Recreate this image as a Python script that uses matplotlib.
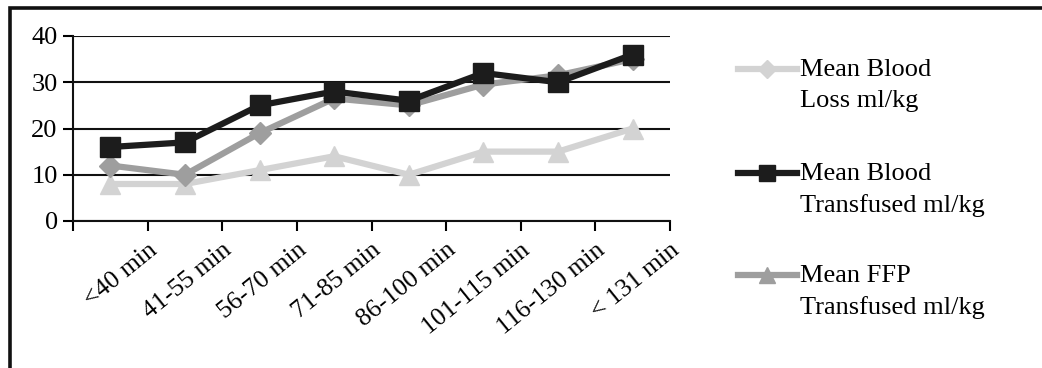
import matplotlib.pyplot as plt
import matplotlib.transforms as mtransforms
from matplotlib.lines import Line2D
from matplotlib.patches import Rectangle

plt.rcParams['font.family'] = ['Liberation Serif', 'DejaVu Serif']

categories = ['<40 min', '41-55 min', '56-70 min', '71-85 min',
              '86-100 min', '101-115 min', '116-130 min', '< 131 min']
blood_loss = [8, 8, 11, 14, 10, 15, 15, 20]
blood_transfused = [16, 17, 25, 28, 26, 32, 30, 36]
ffp_transfused = [12, 10, 19, 26.5, 25, 29.5, 31.5, 35]

legend_labels = ['Mean Blood\nLoss ml/kg',
                 'Mean Blood\nTransfused ml/kg',
                 'Mean FFP\nTransfused ml/kg']

c_light = '#d3d3d3'
c_mid = '#9e9e9e'
c_dark = '#1c1c1c'

fig = plt.figure(figsize=(10.42, 3.68), dpi=100)

# outer frame of the chart area
fig.patches.append(Rectangle((10 / 1042, -0.1), 1.2, 1 - 8 / 368 + 0.1,
                             transform=fig.transFigure, fill=False,
                             edgecolor='#111111', linewidth=2.6))

ax = fig.add_axes([73 / 1042, 1 - 221 / 368, 597 / 1042, 185 / 368])
x = list(range(len(categories)))

ax.plot(x, blood_loss, color=c_light, lw=4.5, marker='^', ms=14, zorder=3)
ax.plot(x, ffp_transfused, color=c_mid, lw=4.5, marker='D', ms=11, zorder=4)
ax.plot(x, blood_transfused, color=c_dark, lw=4.5, marker='s', ms=14, zorder=5)

ax.set_xlim(-0.5, len(categories) - 0.5)
ax.set_ylim(0, 40)
ax.set_yticks([0, 10, 20, 30, 40])
# labels hang from the tick marks between categories, like the original
ax.set_xticks([i - 0.5 for i in range(len(categories) + 1)])
ax.set_xticklabels([''] + categories, rotation=39, ha='right',
                   rotation_mode='anchor', fontsize=18.5)
shift = mtransforms.ScaledTranslation(5 / 100, 0, fig.dpi_scale_trans)
for lbl in ax.get_xticklabels():
    lbl.set_transform(lbl.get_transform() + shift)
ax.tick_params(axis='x', direction='out', length=7, width=1.5, pad=6)
ax.tick_params(axis='y', direction='out', length=7, width=1.5, labelsize=19, pad=4)
ax.grid(axis='y', color='#111111', lw=1.5)
ax.set_axisbelow(True)
for s in ['top', 'right']:
    ax.spines[s].set_visible(False)
for s in ['left', 'bottom']:
    ax.spines[s].set_linewidth(1.5)
    ax.spines[s].set_color('#111111')

# legend drawn by hand so the handle sits on the first text line
leg_style = [(c_light, 'D'), (c_dark, 's'), (c_mid, '^')]
leg_y = [69, 173, 275]
for (col, mk), lab, yy in zip(leg_style, legend_labels, leg_y):
    yf = 1 - yy / 368
    fig.lines.append(Line2D([738 / 1042, 797 / 1042], [yf, yf], transform=fig.transFigure,
                            color=col, lw=4.5))
    fig.lines.append(Line2D([767 / 1042], [yf], transform=fig.transFigure,
                            color=col, marker=mk, ms=11 if mk != 'D' else 9, lw=0))
    fig.text(800 / 1042, yf + 10 / 368, lab, fontsize=19, va='top', ha='left',
             linespacing=1.5)

fig.savefig('out.png', dpi=100)
